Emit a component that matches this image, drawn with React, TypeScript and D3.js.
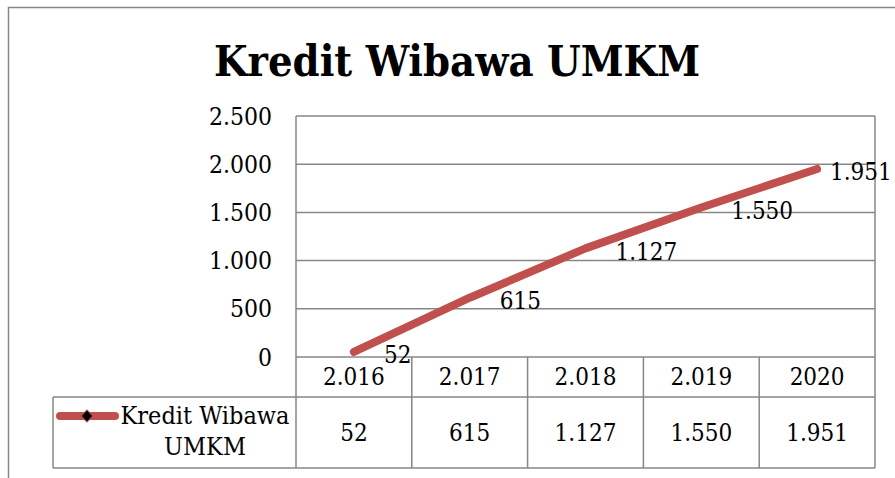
import { useEffect, useRef } from 'react'
import * as d3 from 'd3'

const years = ['2.016', '2.017', '2.018', '2.019', '2020']
const values = [52, 615, 1127, 1550, 1951]
const valueLabels = ['52', '615', '1.127', '1.550', '1.951']
const yTicks = [0, 500, 1000, 1500, 2000, 2500]
const seriesName = ['Kredit Wibawa', 'UMKM']

const RED = '#C0504D'
const GRID = '#878787'
const FONT = '"DejaVu Serif Condensed", "DejaVu Serif", serif'
const fmt = (v: number) => d3.format(',')(v).replace(/,/g, '.')

export default function App() {
  const svgRef = useRef<SVGSVGElement>(null)

  useEffect(() => {
    const W = 895
    const H = 478
    const left = 296
    const right = 875
    const top = 116
    const bottom = 357
    const rowH = 40
    const row2H = 71
    const legendLeft = 53

    const svg = d3.select(svgRef.current)
    svg.selectAll('*').remove()
    svg.attr('width', W).attr('height', H)

    // chart frame (clipped by the picture edge)
    svg.append('rect')
      .attr('x', 8.5).attr('y', 7.5)
      .attr('width', W + 20).attr('height', H + 20)
      .attr('fill', '#fff').attr('stroke', GRID).attr('stroke-width', 1.5)

    svg.append('text')
      .attr('x', 457).attr('y', 76)
      .attr('text-anchor', 'middle')
      .attr('font-family', FONT)
      .attr('font-weight', 'bold')
      .attr('font-size', 43)
      .text('Kredit Wibawa UMKM')

    const x = d3.scaleBand().domain(years).range([left, right])
    const y = d3.scaleLinear().domain([0, 2500]).range([bottom, top])

    // gridlines
    svg.append('g').selectAll('line')
      .data(yTicks)
      .join('line')
      .attr('x1', left).attr('x2', right)
      .attr('y1', d => y(d)).attr('y2', d => y(d))
      .attr('stroke', GRID).attr('stroke-width', 1.5)

    svg.append('line')
      .attr('x1', left).attr('x2', left)
      .attr('y1', top).attr('y2', bottom + rowH + row2H)
      .attr('stroke', GRID).attr('stroke-width', 1.5)

    svg.append('g').selectAll('text')
      .data(yTicks)
      .join('text')
      .attr('x', 272)
      .attr('y', d => y(d))
      .attr('dy', '0.35em')
      .attr('text-anchor', 'end')
      .attr('font-family', FONT)
      .attr('font-size', 24.5)
      .text(d => fmt(d))

    // data table
    const tbl = svg.append('g').attr('fill', 'none').attr('stroke', GRID).attr('stroke-width', 1.5)
    tbl.append('line')
      .attr('x1', legendLeft).attr('x2', right)
      .attr('y1', bottom + rowH).attr('y2', bottom + rowH)
    tbl.append('line')
      .attr('x1', legendLeft).attr('x2', right)
      .attr('y1', bottom + rowH + row2H).attr('y2', bottom + rowH + row2H)
    tbl.append('line')
      .attr('x1', legendLeft).attr('x2', legendLeft)
      .attr('y1', bottom + rowH).attr('y2', bottom + rowH + row2H)
    tbl.selectAll('.col')
      .data(years)
      .join('line')
      .attr('class', 'col')
      .attr('x1', d => x(d)! + x.bandwidth()).attr('x2', d => x(d)! + x.bandwidth())
      .attr('y1', (d, i) => (i === years.length - 1 ? top : bottom))
      .attr('y2', bottom + rowH + row2H)

    svg.append('g').selectAll('text')
      .data(years)
      .join('text')
      .attr('x', d => x(d)! + x.bandwidth() / 2)
      .attr('y', bottom + rowH / 2)
      .attr('dy', '0.35em')
      .attr('text-anchor', 'middle')
      .attr('font-family', FONT)
      .attr('font-size', 24)
      .text(d => d)

    svg.append('g').selectAll('text')
      .data(valueLabels)
      .join('text')
      .attr('x', (d, i) => x(years[i])! + x.bandwidth() / 2)
      .attr('y', bottom + rowH + row2H / 2)
      .attr('dy', '0.35em')
      .attr('text-anchor', 'middle')
      .attr('font-family', FONT)
      .attr('font-size', 24)
      .text(d => d)

    // legend key
    const ly = bottom + rowH + 19
    svg.append('line')
      .attr('x1', 60).attr('x2', 115)
      .attr('y1', ly).attr('y2', ly)
      .attr('stroke', RED).attr('stroke-width', 8).attr('stroke-linecap', 'round')
    svg.append('path')
      .attr('d', d3.symbol(d3.symbolSquare, 72)())
      .attr('transform', `translate(87,${ly}) rotate(45)`)
      .attr('fill', '#000').attr('stroke', RED).attr('stroke-width', 1)
    svg.append('text')
      .attr('font-family', FONT)
      .attr('font-size', 25)
      .attr('text-anchor', 'middle')
      .selectAll('tspan')
      .data(seriesName)
      .join('tspan')
      .attr('x', 205)
      .attr('y', (d, i) => ly + 8 + i * 31)
      .text(d => d)

    // series line
    const line = d3.line<number>()
      .x((d, i) => x(years[i])! + x.bandwidth() / 2)
      .y(d => y(d))
    svg.append('path')
      .datum(values)
      .attr('d', line)
      .attr('fill', 'none')
      .attr('stroke', RED)
      .attr('stroke-width', 8)
      .attr('stroke-linecap', 'round')
      .attr('stroke-linejoin', 'round')

    // data labels, right of the points (kept inside the picture)
    svg.append('g').selectAll('text')
      .data(values)
      .join('text')
      .attr('x', (d, i) => Math.min(x(years[i])! + x.bandwidth() / 2 + 30, 830))
      .attr('y', d => y(d) + 3)
      .attr('dy', '0.35em')
      .attr('font-family', FONT)
      .attr('font-size', 24)
      .text((d, i) => valueLabels[i])
  }, [])

  return (
    <div style={{ position: 'absolute', left: 0, top: 0, width: 895, height: 478, overflow: 'hidden', background: '#fff' }}>
      <svg ref={svgRef} style={{ display: 'block' }} />
    </div>
  )
}
